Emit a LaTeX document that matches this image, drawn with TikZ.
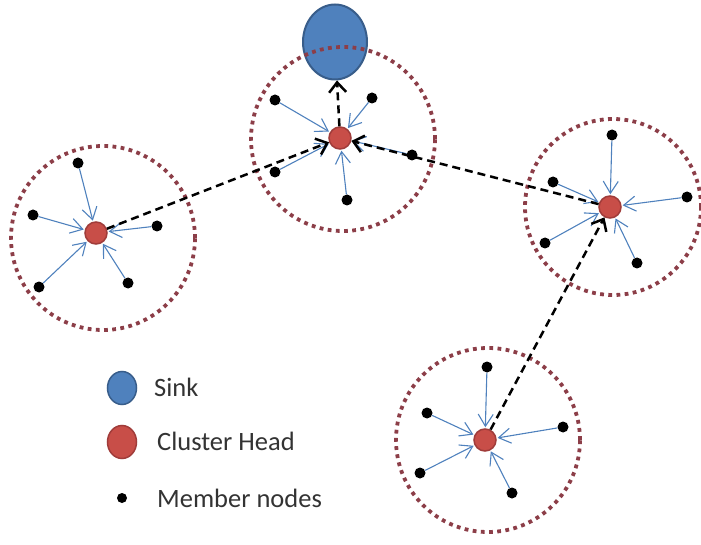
\documentclass[tikz,border=0pt]{standalone}
\usepackage{fontspec}
\setmainfont{Carlito}
\usetikzlibrary{arrows.meta,shapes.geometric}

\definecolor{headred}{RGB}{200,78,72}
\definecolor{headedge}{RGB}{160,60,58}
\definecolor{sinkblue}{RGB}{79,129,189}
\definecolor{sinkedge}{RGB}{56,93,138}
\definecolor{rangered}{RGB}{140,62,72}

\tikzset{
    x=1pt, y=-1pt,
    range/.style={circle, draw=rangered, line width=3.8pt, dash pattern=on 3.8pt off 4.4pt, minimum size=#1, inner sep=0pt},
    head/.style={circle, fill=headred, draw=headedge, line width=1.5pt, minimum size=22pt, inner sep=0pt},
    sink/.style={ellipse, fill=sinkblue, draw=sinkedge, line width=2pt, minimum width=64pt, minimum height=75pt, inner sep=0pt},
    member/.style={circle, fill=black, minimum size=11pt, inner sep=0pt},
    feed/.style={draw=sinkblue, line width=1.1pt, shorten >=1pt, -{Straight Barb[length=12pt,width=15pt,line width=1.1pt]}},
    hop/.style={draw=black, line width=2.5pt, dash pattern=on 8pt off 5pt, -{Straight Barb[length=10pt,width=17pt,line width=2.5pt]}},
    legend/.style={anchor=base west, inner sep=0pt, font=\fontsize{26.5}{31}\selectfont, text=black!80}
}

\begin{document}
\begin{tikzpicture}
    \useasboundingbox (0,0) rectangle (701,545);

    % sink
    \node[sink] (sink) at (335,42) {};

    % cluster heads
    \foreach \c/\x/\y in {1/96/233, 2/340/138, 3/610/207, 4/485/440}
        \node[head] (h\c) at (\x,\y) {};

    % member nodes, each sends to its cluster head
    \foreach \c/\i/\x/\y in {1/1/78/163, 1/2/33/215, 1/3/157/226, 1/4/39/287, 1/5/128/283,
                             2/1/275/100, 2/2/372/98, 2/3/275/172, 2/4/412/155, 2/5/347/200,
                             3/1/612/135, 3/2/553/182, 3/3/687/197, 3/4/545/243, 3/5/637/263,
                             4/1/487/367, 4/2/427/413, 4/3/563/427, 4/4/420/473, 4/5/512/493} {
        \node[member] (m\c\i) at (\x,\y) {};
        \draw[feed] (m\c\i) -- (h\c);
    }

    % cluster ranges
    \node[range=184pt] (r1) at (103,238) {};
    \node[range=184pt] (r2) at (343,139) {};
    \node[range=176pt] (r3) at (613,207) {};
    \node[range=184pt] (r4) at (488,440) {};

    % routes between heads
    \draw[hop] (h1) -- (h2);
    \draw[hop] (h3) -- (h2);
    \draw[hop] (h4) -- (h3);
    \draw[hop] (h2) -- (sink);

    % legend
    \node[ellipse, fill=sinkblue, draw=sinkedge, line width=1.5pt, minimum width=29pt, minimum height=33pt, inner sep=0pt] (keysink) at (122,388) {};
    \node[ellipse, fill=headred, draw=headedge, line width=1.5pt, minimum width=29pt, minimum height=33pt, inner sep=0pt] (keyhead) at (122,442) {};
    \node[member, minimum size=10pt] (keymember) at (122,498) {};
    \node[legend] (tsink) at (154,396) {Sink};
    \node[legend] (thead) at (157,450) {Cluster Head};
    \node[legend] (tmember) at (157,507) {Member nodes};
\end{tikzpicture}
\end{document}
